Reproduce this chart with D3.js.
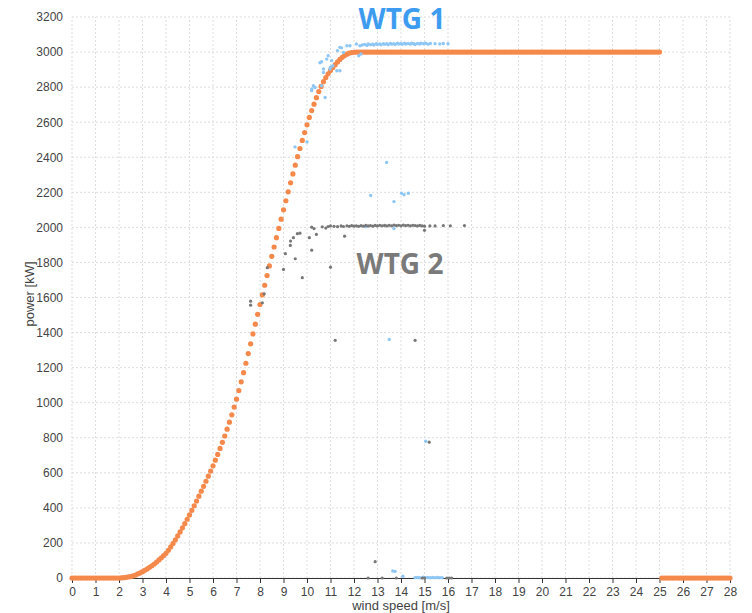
<!DOCTYPE html>
<html>

<head>
    <meta charset="utf-8">
    <script src="https://d3js.org/d3.v7.min.js"></script>
    <style>
        body { margin: 0; background: #fff; }
        text { font-family: "Liberation Sans", Arial, sans-serif; }
    </style>
</head>

<body>
</body>

<script>
    // reference power curve, one point every 0.1 m/s from 0 to 28
    let curveSpeed = [
        0.0,0.1,0.2,0.3,0.4,0.5,0.6,0.7,0.8,0.9,1.0,1.1,1.2,1.3,1.4,1.5,1.6,1.7,1.8,1.9,
        2.0,2.1,2.2,2.3,2.4,2.5,2.6,2.7,2.8,2.9,3.0,3.1,3.2,3.3,3.4,3.5,3.6,3.7,3.8,3.9,
        4.0,4.1,4.2,4.3,4.4,4.5,4.6,4.7,4.8,4.9,5.0,5.1,5.2,5.3,5.4,5.5,5.6,5.7,5.8,5.9,
        6.0,6.1,6.2,6.3,6.4,6.5,6.6,6.7,6.8,6.9,7.0,7.1,7.2,7.3,7.4,7.5,7.6,7.7,7.8,7.9,
        8.0,8.1,8.2,8.3,8.4,8.5,8.6,8.7,8.8,8.9,9.0,9.1,9.2,9.3,9.4,9.5,9.6,9.7,9.8,9.9,
        10.0,10.1,10.2,10.3,10.4,10.5,10.6,10.7,10.8,10.9,11.0,11.1,11.2,11.3,11.4,11.5,11.6,11.7,11.8,11.9,
        12.0,12.1,12.2,12.3,12.4,12.5,12.6,12.7,12.8,12.9,13.0,13.1,13.2,13.3,13.4,13.5,13.6,13.7,13.8,13.9,
        14.0,14.1,14.2,14.3,14.4,14.5,14.6,14.7,14.8,14.9,15.0,15.1,15.2,15.3,15.4,15.5,15.6,15.7,15.8,15.9,
        16.0,16.1,16.2,16.3,16.4,16.5,16.6,16.7,16.8,16.9,17.0,17.1,17.2,17.3,17.4,17.5,17.6,17.7,17.8,17.9,
        18.0,18.1,18.2,18.3,18.4,18.5,18.6,18.7,18.8,18.9,19.0,19.1,19.2,19.3,19.4,19.5,19.6,19.7,19.8,19.9,
        20.0,20.1,20.2,20.3,20.4,20.5,20.6,20.7,20.8,20.9,21.0,21.1,21.2,21.3,21.4,21.5,21.6,21.7,21.8,21.9,
        22.0,22.1,22.2,22.3,22.4,22.5,22.6,22.7,22.8,22.9,23.0,23.1,23.2,23.3,23.4,23.5,23.6,23.7,23.8,23.9,
        24.0,24.1,24.2,24.3,24.4,24.5,24.6,24.7,24.8,24.9,25.0,25.1,25.2,25.3,25.4,25.5,25.6,25.7,25.8,25.9,
        26.0,26.1,26.2,26.3,26.4,26.5,26.6,26.7,26.8,26.9,27.0,27.1,27.2,27.3,27.4,27.5,27.6,27.7,27.8,27.9,
        28.0
    ];
    let curvePower = [
        0,0,0,0,0,0,0,0,0,0,0,0,0,0,0,0,0,0,0,0,
        0,1,2,4,6,8,12,17,23,29,36,44,52,61,70,80,91,103,115,128,
        141,158,177,197,218,240,263,286,310,335,360,386,412,439,467,495,523,552,581,610,
        640,672,705,739,774,810,849,889,931,975,1020,1069,1119,1171,1225,1280,1336,1392,1448,1504,
        1560,1615,1670,1725,1780,1835,1888,1941,1994,2047,2100,2152,2203,2254,2305,2355,2403,2450,2496,2541,
        2585,2627,2666,2703,2740,2775,2804,2831,2855,2876,2895,2912,2928,2944,2958,2970,2980,2988,2994,2997,
        2999,3000,3000,3000,3000,3000,3000,3000,3000,3000,3000,3000,3000,3000,3000,3000,3000,3000,3000,3000,
        3000,3000,3000,3000,3000,3000,3000,3000,3000,3000,3000,3000,3000,3000,3000,3000,3000,3000,3000,3000,
        3000,3000,3000,3000,3000,3000,3000,3000,3000,3000,3000,3000,3000,3000,3000,3000,3000,3000,3000,3000,
        3000,3000,3000,3000,3000,3000,3000,3000,3000,3000,3000,3000,3000,3000,3000,3000,3000,3000,3000,3000,
        3000,3000,3000,3000,3000,3000,3000,3000,3000,3000,3000,3000,3000,3000,3000,3000,3000,3000,3000,3000,
        3000,3000,3000,3000,3000,3000,3000,3000,3000,3000,3000,3000,3000,3000,3000,3000,3000,3000,3000,3000,
        3000,3000,3000,3000,3000,3000,3000,3000,3000,3000,3000,0,0,0,0,0,0,0,0,0,
        0,0,0,0,0,0,0,0,0,0,0,0,0,0,0,0,0,0,0,0,
        0
    ];

    // measured WTG 1 (speed, power)
    let wtg1Speed = [
        9.49,10.0,10.2,10.27,10.34,10.2,10.55,10.62,10.62,10.7,10.7,10.77,10.84,10.9,10.98,11.05,11.1,11.27,11.4,11.3,
        11.4,11.47,11.55,11.7,11.83,12.1,12.2,12.3,12.25,11.0,
        12.35,12.45,12.55,12.6,12.7,12.8,12.85,12.95,13.0,13.1,13.15,13.25,13.3,13.4,13.45,13.55,13.6,13.7,13.75,13.85,
        13.9,14.0,14.05,14.15,14.2,14.3,14.4,14.45,14.55,14.6,14.7,14.8,14.85,14.95,15.05,15.15,15.25,15.45,15.65,15.8,16.0,
        13.39,12.71,13.7,14.02,14.13,14.31,12.51,13.7,13.5,15.05,
        13.65,13.75,14.08,14.6,14.7,14.8,14.95,15.05,15.15,15.25,15.35,15.45,15.55,15.65,15.75
    ];
    let wtg1Power = [
        2459,2487,2789,2808,2798,2780,2939,2945,2808,2903,2884,2741,2960,2979,2903,2951,2922,2893,2893,3008,
        3027,3024,2998,3036,3036,3046,2979,2989,3036,2914,
        3040,3044,3038,3046,3042,3045,3040,3047,3043,3046,3041,3048,3044,3047,3042,3049,3045,3048,3043,3050,
        3046,3049,3044,3050,3046,3049,3045,3050,3047,3043,3049,3046,3051,3047,3050,3045,3049,3048,3046,3049,3047,
        2370,2182,2147,2195,2186,2195,2004,1993,1361,780,
        40,38,10,2,3,1,4,2,3,1,3,2,3,1,2
    ];

    // measured WTG 2 (speed, power)
    let wtg2Speed = [
        7.6,7.6,8.1,8.18,8.31,9.0,9.08,9.5,9.29,9.3,9.42,9.59,9.7,9.8,10.1,10.2,10.3,10.4,10.2,11.6,
        11.0,15.0,11.2,14.6,15.2,
        10.65,10.8,10.9,11.0,11.15,11.3,11.45,11.55,11.7,11.8,11.9,12.0,12.1,12.2,12.3,12.4,12.5,12.6,12.7,12.8,
        12.9,13.0,13.1,13.2,13.3,13.4,13.5,13.6,13.7,13.8,13.9,14.0,14.1,14.2,14.3,14.4,14.5,14.6,14.7,14.8,
        14.9,15.0,15.23,15.45,15.8,16.1,16.7,
        12.6,12.9,13.2,13.8,14.9,15.0,15.95,16.05,16.15
    ];
    let wtg2Power = [
        1579,1556,1570,1621,1770,1760,1850,1821,1897,1922,1941,1964,1967,1713,1941,2001,1993,1960,1870,1950,
        1773,1983,1356,1356,775,
        2003,1996,2005,2008,2006,2004,2008,2005,2009,2006,2010,2007,2009,2006,2010,2007,2011,2008,2010,2007,
        2011,2008,2012,2009,2011,2008,2012,2009,2013,2010,2012,2009,2013,2010,2012,2009,2012,2010,2008,2011,
        2009,2007,2008,2008,2010,2009,2010,
        0,93,0,0,0,0,0,0,0
    ];

    let xTicks = d3.range(0, 29);
    let yTicks = [0, 200, 400, 600, 800, 1000, 1200, 1400, 1600, 1800, 2000, 2200, 2400, 2600, 2800, 3000, 3200];

    let W = 752, H = 613;
    let margin = {top: 17, right: 22, bottom: 35, left: 72};

    let svg = d3.select("body").append("svg")
        .attr("width", W)
        .attr("height", H);

    let x = d3.scaleLinear().domain([0, 28]).range([margin.left, W - margin.right]);
    let y = d3.scaleLinear().domain([0, 3200]).range([H - margin.bottom, margin.top]);

    // grid
    svg.append("g")
        .selectAll("line")
        .data(xTicks)
        .join("line")
            .attr("x1", d => x(d)).attr("x2", d => x(d))
            .attr("y1", y(0)).attr("y2", y(3200))
            .attr("stroke", "#ddd")
            .attr("stroke-dasharray", "2,2");

    svg.append("g")
        .selectAll("line")
        .data(yTicks)
        .join("line")
            .attr("x1", x(0)).attr("x2", x(28))
            .attr("y1", d => y(d)).attr("y2", d => y(d))
            .attr("stroke", "#ddd")
            .attr("stroke-dasharray", "2,2");

    // axes
    let xAxis = svg.append("g")
        .attr("transform", `translate(0,${y(0)})`)
        .call(d3.axisBottom(x).tickValues(xTicks).tickFormat(d3.format("d")).tickSize(5).tickSizeOuter(0));
    xAxis.select(".domain").attr("stroke", "#333");
    xAxis.selectAll(".tick line").attr("stroke", "#333");
    xAxis.selectAll("text").attr("fill", "#444").style("font-size", "12px").attr("dy", "0.8em");

    let yAxis = svg.append("g")
        .attr("transform", `translate(${x(0)},0)`)
        .call(d3.axisLeft(y).tickValues(yTicks).tickFormat(d3.format("d")).tickSize(0).tickPadding(9));
    yAxis.select(".domain").remove();
    yAxis.selectAll("text").attr("fill", "#444").style("font-size", "12px");

    svg.append("text")
        .attr("x", x(14))
        .attr("y", H - 3)
        .attr("text-anchor", "middle")
        .attr("fill", "#444")
        .style("font-size", "13px")
        .text("wind speed [m/s]");

    svg.append("text")
        .attr("transform", `translate(34,${y(1620)}) rotate(-90)`)
        .attr("text-anchor", "middle")
        .attr("fill", "#444")
        .style("font-size", "13px")
        .text("power [kW]");

    // reference curve
    let curve = curveSpeed.map((s, i) => ({s: s, p: curvePower[i]}));
    svg.append("g")
        .selectAll("circle")
        .data(curve)
        .join("circle")
            .attr("cx", d => x(d.s))
            .attr("cy", d => y(d.p))
            .attr("r", 2.6)
            .attr("fill", "#f5894c");

    let wtg1 = wtg1Speed.map((s, i) => ({s: s, p: wtg1Power[i]}));
    svg.append("g")
        .selectAll("circle")
        .data(wtg1)
        .join("circle")
            .attr("cx", d => x(d.s))
            .attr("cy", d => y(d.p))
            .attr("r", 1.7)
            .attr("fill", "#8ec6f6");

    let wtg2 = wtg2Speed.map((s, i) => ({s: s, p: wtg2Power[i]}));
    svg.append("g")
        .selectAll("circle")
        .data(wtg2)
        .join("circle")
            .attr("cx", d => x(d.s))
            .attr("cy", d => y(d.p))
            .attr("r", 1.6)
            .attr("fill", "#777");

    // labels
    svg.append("text")
        .attr("x", 402)
        .attr("y", 29)
        .attr("text-anchor", "middle")
        .attr("fill", "#3d9cf0")
        .style("font-family", "'Open Sans', sans-serif")
        .style("font-weight", "bold")
        .style("font-size", "28px")
        .text("WTG 1");

    svg.append("text")
        .attr("x", 400)
        .attr("y", 274)
        .attr("text-anchor", "middle")
        .attr("fill", "#7a7a7a")
        .style("font-family", "'Open Sans', sans-serif")
        .style("font-weight", "bold")
        .style("font-size", "28px")
        .text("WTG 2");

</script>

</html>
